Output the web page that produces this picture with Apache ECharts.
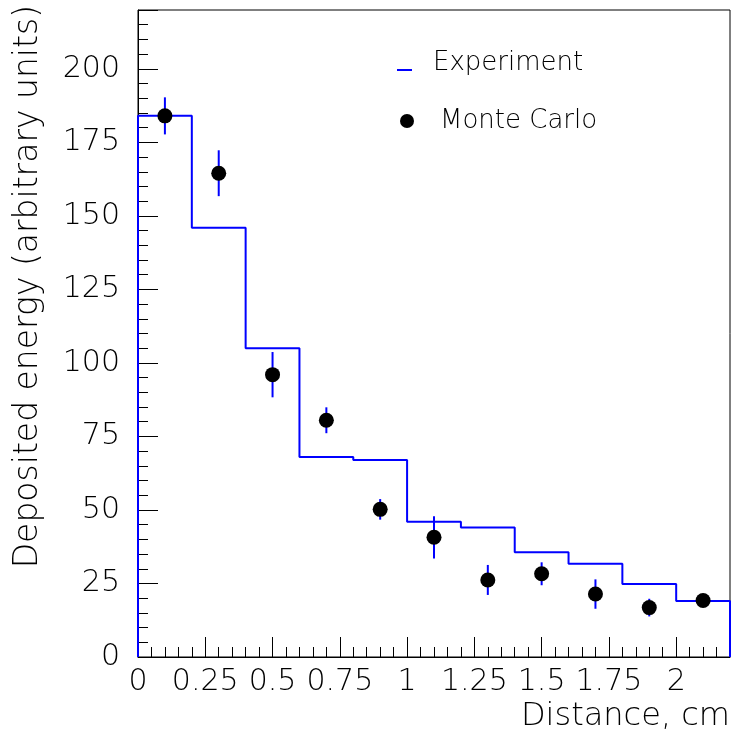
<!DOCTYPE html>
<html>
<head>
<meta charset="utf-8">
<script src="https://cdn.jsdelivr.net/npm/echarts@6/dist/echarts.min.js"></script>
<style>
html,body{margin:0;padding:0;background:#fff;}
#chart{width:732px;height:731px;}
</style>
</head>
<body>
<div id="chart"></div>
<script>
// Experiment histogram: bin edges (cm) and bin contents
var binEdges = [0, 0.2, 0.4, 0.6, 0.8, 1.0, 1.2, 1.4, 1.6, 1.8, 2.0, 2.2];
var expValues = [184, 146, 105, 68, 67, 46, 44, 35.6, 31.7, 24.8, 19];
// Monte Carlo points: x (bin centres), values, errors
var mcX = [0.1, 0.3, 0.5, 0.7, 0.9, 1.1, 1.3, 1.5, 1.7, 1.9, 2.1];
var mcValues = [184, 164.5, 96, 80.5, 50.2, 40.7, 26.2, 28.3, 21.4, 16.8, 19.2];
var mcErrors = [6.3, 7.8, 7.7, 4.4, 3.5, 7.2, 5.1, 3.9, 5.0, 3.0, 1.5];

var histData = [[binEdges[0], 0]];
for (var i = 0; i < expValues.length; i++) histData.push([binEdges[i], expValues[i]]);
histData.push([binEdges[binEdges.length - 1], expValues[expValues.length - 1]]);
histData.push([binEdges[binEdges.length - 1], 0]);

var mcData = mcX.map(function (x, i) { return [x, mcValues[i]]; });
var errData = mcX.map(function (x, i) { return [x, mcValues[i], mcErrors[i]]; });

var FONT = 'DejaVu Sans';
var FW = 200;
var chart = echarts.init(document.getElementById('chart'), null, {renderer: 'canvas'});
chart.setOption({
  animation: false,
  backgroundColor: '#fff',
  grid: {left: 138, top: 10, width: 592, height: 647, show: true, borderColor: '#000', borderWidth: 1, backgroundColor: 'transparent', containLabel: false, outerBoundsMode: 'none'},
  xAxis: {
    type: 'value', min: 0, max: 2.2, interval: 0.25,
    name: 'Distance, cm', nameLocation: 'end', nameGap: 0,
    nameTextStyle: {fontFamily: FONT, fontWeight: FW, fontSize: 32, color: '#000', align: 'right', verticalAlign: 'top', padding: [44, 0, 0, 0]},
    axisLine: {show: true, onZero: false, lineStyle: {color: '#000', width: 1}},
    axisTick: {show: true, inside: true, length: 20, lineStyle: {color: '#000', width: 1}},
    minorTick: {show: true, splitNumber: 5, length: 10, lineStyle: {color: '#000', width: 1}},
    splitLine: {show: false}, minorSplitLine: {show: false},
    axisLabel: {fontFamily: FONT, fontWeight: FW, fontSize: 30, color: '#000', margin: 10, showMaxLabel: false, showMinLabel: true}
  },
  yAxis: {
    type: 'value', min: 0, max: 220, interval: 25,
    axisLine: {show: true, onZero: false, lineStyle: {color: '#000', width: 1}},
    axisTick: {show: true, inside: true, length: 20, lineStyle: {color: '#000', width: 1}},
    minorTick: {show: true, splitNumber: 5, length: 10, lineStyle: {color: '#000', width: 1}},
    splitLine: {show: false}, minorSplitLine: {show: false},
    axisLabel: {fontFamily: FONT, fontWeight: FW, fontSize: 30, color: '#000', margin: 18, showMaxLabel: false, padding: [6, 0, 0, 0]}
  },
  legend: [
    {
      data: [{name: 'Experiment', icon: 'path://M0,0 L0.01,0 L0.01,0.01 Z M0,14 L15,14 L15,16 L0,16 Z'}],
      left: 397, top: 50, padding: 0, orient: 'vertical',
      itemWidth: 15, itemHeight: 16, selectedMode: false,
      textStyle: {fontFamily: FONT, fontWeight: FW, fontSize: 26, color: '#000', padding: [0, 0, 0, 16]}
    },
    {
      data: [{name: 'Monte Carlo', icon: 'circle'}], left: 400, top: 108, padding: 0, orient: 'vertical',
      itemWidth: 14, itemHeight: 14, selectedMode: false,
      textStyle: {fontFamily: FONT, fontWeight: FW, fontSize: 26, color: '#000', padding: [4, 0, 0, 21]}
    }
  ],
  graphic: [{
    type: 'text', left: 12, top: 5, rotation: Math.PI / 2,
    style: {text: 'Deposited energy (arbitrary units)', fontFamily: FONT, fontWeight: FW, fontSize: 33, fill: '#000', textAlign: 'right', textVerticalAlign: 'top'}
  }],
  series: [
    {
      name: 'Experiment', type: 'line', step: 'end', data: histData,
      symbol: 'none', showSymbol: false, color: '#0000ff',
      lineStyle: {color: '#0000ff', width: 2}, z: 3, clip: false
    },
    {
      name: 'errors', type: 'custom', data: errData, z: 4,
      renderItem: function (params, api) {
        var x = api.value(0), y = api.value(1), e = api.value(2);
        var p1 = api.coord([x, y - e]);
        var p2 = api.coord([x, y + e]);
        return {type: 'line', shape: {x1: p1[0], y1: p1[1], x2: p2[0], y2: p2[1]}, style: {stroke: '#0000ff', lineWidth: 2}};
      }
    },
    {
      name: 'Monte Carlo', type: 'scatter', data: mcData, symbol: 'circle', symbolSize: 15,
      color: '#000', itemStyle: {color: '#000', opacity: 1}, z: 5
    }
  ]
});
</script>
</body>
</html>
